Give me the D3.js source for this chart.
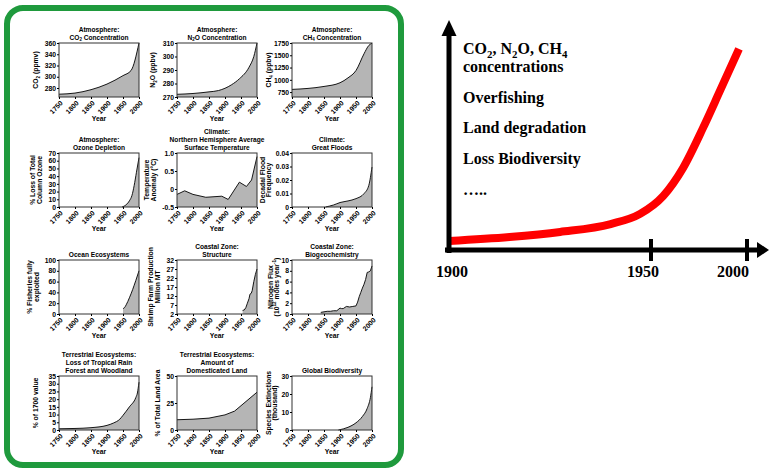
<!DOCTYPE html>
<html>
<head>
<meta charset="utf-8">
<script src="https://cdn.jsdelivr.net/npm/d3@7"></script>
<style>
  body { margin: 0; background: #fff; }
  svg { display: block; }
</style>
</head>
<body>
<svg id="chart" width="769" height="468"></svg>
<script>
// ---- data ----
var yearTicks = [1750, 1800, 1850, 1900, 1950, 2000];

var co2 = [[1750, 269], [1800, 271], [1850, 277], [1900, 287], [1950, 302], [1975, 311], [2000, 360]];
var n2o = [[1750, 272], [1800, 272.6], [1850, 273.8], [1880, 274.8], [1920, 279], [1945, 283.5], [1975, 292], [1990, 300], [2000, 310]];
var ch4 = [[1750, 805], [1800, 825], [1850, 865], [1900, 940], [1925, 1040], [1950, 1190], [1975, 1530], [1990, 1700], [2000, 1745]];
var ozone = [[1947, 0], [1960, 3], [1970, 8], [1978, 15], [1985, 28], [1992, 45], [2000, 64]];
var temperature = [[1750, -0.15], [1774, -0.05], [1800, -0.15], [1840, -0.23], [1890, -0.2], [1910, -0.29], [1945, 0.19], [1967, 0.07], [1983, 0.25], [2000, 0.9]];
var floods = [[1855, 0], [1880, 0.0015], [1900, 0.0033], [1925, 0.0045], [1950, 0.0062], [1975, 0.0099], [1990, 0.016], [2000, 0.0296]];
var fisheries = [[1950, 10], [1955, 12], [1960, 17], [1970, 30], [1980, 45], [1990, 62], [2000, 80]];
var shrimp = [[1955, 4], [1960, 4.2], [1965, 5.5], [1970, 8], [1975, 10.5], [1978, 13], [1982, 13.5], [1985, 15], [1990, 20], [1995, 24], [2000, 27]];
var nitrogen = [[1840, 0.3], [1850, 0.4], [1860, 0.5], [1870, 0.5], [1880, 0.6], [1890, 0.6], [1900, 1.1], [1905, 1.0], [1910, 1.0], [1920, 1.4], [1930, 1.3], [1940, 1.4], [1950, 1.5], [1955, 2.2], [1960, 3.2], [1965, 4.0], [1970, 4.8], [1975, 5.5], [1980, 6.4], [1985, 7.7], [1990, 7.8], [1995, 8.0], [2000, 8.9]];
var rainforest = [[1750, 0.8], [1800, 1], [1850, 1.5], [1900, 3], [1920, 4.5], [1940, 7], [1950, 9.5], [1970, 15], [1990, 21], [1995, 24], [2000, 31]];
var domesticated = [[1750, 9.5], [1800, 10], [1850, 11], [1900, 14], [1930, 17.5], [2000, 35]];
var extinctions = [[1895, 0], [1925, 1.5], [1950, 4], [1970, 7.5], [1985, 12], [1995, 18], [2000, 24]];

// right hand sketch
var pressureYears = [1900, 1915, 1927.5, 1940, 1947.3, 1956.3, 1966.7, 1977.1, 1985.9, 1995.8];
var pressureValues = [4.1, 5.9, 8.2, 11.8, 16.4, 24.5, 37.3, 55.5, 72.3, 91.4];
var pressureTicks = [1950, 2000];
var pressureAxisLabels = [1900, 1950, 2000];
var pressureLabels = ["CO_2, N_2O, CH_4", "concentrations", "Overfishing", "Land degradation", "Loss Biodiversity", "….."];

var fmtInt = d3.format("d");
var panels = [
  { title: ["Atmosphere:", "CO_2 Concentration"], ylab: ["CO_2 (ppmv)"], ydx: [-21], data: co2, domain: [264, 360], ticks: [280, 300, 320, 340, 360], smooth: true },
  { title: ["Atmosphere:", "N_2O Concentration"], ylab: ["N_2O (ppbv)"], ydx: [-22], data: n2o, domain: [270, 310], ticks: [270, 280, 290, 300, 310], smooth: true },
  { title: ["Atmosphere:", "CH_4 Concentration"], ylab: ["CH_4 (ppbv)"], ydx: [-21], data: ch4, domain: [650, 1750], ticks: [750, 1000, 1250, 1500, 1750], smooth: true },
  { title: ["Atmosphere:", "Ozone Depletion"], ylab: ["% Loss of Total", "Column Ozone"], ydx: [-24, -17], data: ozone, domain: [0, 70], ticks: [0, 10, 20, 30, 40, 50, 60, 70], smooth: true },
  { title: ["Climate:", "Northern Hemisphere Average", "Surface Temperature"], ylab: ["Temperature", "Anomaly (°C)"], ydx: [-28, -21], data: temperature, domain: [-0.5, 1], ticks: [-0.5, 0, 0.5, 1], fmt: function(d) { return d === 0 ? "0" : d.toFixed(1); } },
  { title: ["Climate:", "Great Floods"], ylab: ["Decadal Flood", "Frequency"], ydx: [-27, -21], data: floods, domain: [0, 0.04], ticks: [0, 0.01, 0.02, 0.03, 0.04], fmt: function(d) { return d === 0 ? "0" : d.toFixed(2); }, smooth: true },
  { title: ["Ocean Ecosystems"], ylab: ["% Fisheries fully", "exploited"], ydx: [-27, -20], data: fisheries, domain: [0, 100], ticks: [0, 20, 40, 60, 80, 100], smooth: true },
  { title: ["Coastal Zone:", "Structure"], ylab: ["Shrimp Farm Production", "Million MT"], ydx: [-24, -17], data: shrimp, domain: [2, 32], ticks: [2, 7, 12, 17, 22, 27, 32] },
  { title: ["Coastal Zone:", "Biogeochemistry"], ylab: ["Nitrogen Flux", "(10^{12} moles year^{-1})"], ydx: [-19, -13], data: nitrogen, domain: [0, 10], ticks: [0, 2, 4, 6, 8, 10] },
  { title: ["Terrestrial Ecosystems:", "Loss of Tropical Rain", "Forest and Woodland"], ylab: ["% of 1700 value"], ydx: [-21], data: rainforest, domain: [0, 35], ticks: [0, 5, 10, 15, 20, 25, 30, 35], smooth: true },
  { title: ["Terrestrial Ecosystems:", "Amount of", "Domesticated Land"], ylab: ["% of Total Land Area"], ydx: [-17], data: domesticated, domain: [0, 50], ticks: [0, 25, 50] },
  { title: ["Global Biodiversity"], ylab: ["Species Extinctions", "(thousand)"], ydx: [-21, -15], data: extinctions, domain: [0, 30], ticks: [0, 10, 20, 30], smooth: true }
];

var sans = "'Liberation Sans', Arial, Helvetica, sans-serif";
var serif = "'Liberation Serif', 'Times New Roman', serif";

var svg = d3.select("#chart");

// write "CO_2" / "^{12}" style strings as tspans
function rich(textSel, str, fs) {
  var parts = str.split(/(_\{[^}]*\}|_.|\^\{[^}]*\}|\^.)/);
  var cur = 0;
  parts.forEach(function(p) {
    if (!p) return;
    var kind = "", t = p;
    if (p[0] === "_" || p[0] === "^") {
      kind = p[0];
      t = p.slice(1).replace(/[{}]/g, "");
    }
    var off = kind === "_" ? fs * 0.28 : kind === "^" ? -fs * 0.38 : 0;
    var ts = textSel.append("tspan").attr("dy", off - cur).text(t);
    if (kind) ts.attr("font-size", fs * 0.68);
    cur = off;
  });
}

// green frame round the small charts
svg.append("rect")
  .attr("x", 7).attr("y", 8)
  .attr("width", 394).attr("height", 457)
  .attr("rx", 16).attr("ry", 16)
  .attr("fill", "none")
  .attr("stroke", "#1f9a3d")
  .attr("stroke-width", 6);

var colLeft = [59, 177, 292], rowTop = [43, 153, 260, 376];
var plotW = 80, plotH = 54;
var x = d3.scaleLinear().domain([1750, 2000]).range([0, plotW]);

panels.forEach(function(p, i) {
  var g = svg.append("g")
    .attr("transform", "translate(" + colLeft[i % 3] + "," + rowTop[Math.floor(i / 3)] + ")")
    .attr("font-family", sans)
    .attr("font-weight", "bold");

  var y = d3.scaleLinear().domain(p.domain).range([plotH, 0]);
  var curve = p.smooth ? d3.curveMonotoneX : d3.curveLinear;

  g.append("path").datum(p.data)
    .attr("fill", "#b5b5b5")
    .attr("d", d3.area().x(function(d) { return x(d[0]); }).y0(plotH).y1(function(d) { return y(d[1]); }).curve(curve));

  g.append("path").datum(p.data)
    .attr("fill", "none")
    .attr("stroke", "#000")
    .attr("stroke-width", 0.9)
    .attr("d", d3.line().x(function(d) { return x(d[0]); }).y(function(d) { return y(d[1]); }).curve(curve));

  g.append("rect")
    .attr("width", plotW).attr("height", plotH)
    .attr("fill", "none")
    .attr("stroke", "#333")
    .attr("stroke-width", 1);

  // y axis
  var ya = g.append("g")
    .call(d3.axisLeft(y).tickValues(p.ticks).tickFormat(p.fmt || fmtInt).tickSize(2).tickPadding(1).tickSizeOuter(0))
    .attr("font-family", sans).attr("font-size", 6.8);
  ya.select(".domain").remove();

  // x axis, labels tilted
  var xa = g.append("g")
    .attr("transform", "translate(0," + plotH + ")")
    .call(d3.axisBottom(x).tickValues(yearTicks).tickFormat(fmtInt).tickSize(2).tickSizeOuter(0))
    .attr("font-family", sans).attr("font-size", 6.8);
  xa.select(".domain").remove();
  xa.selectAll("text")
    .attr("y", 0).attr("dy", "0.35em")
    .attr("text-anchor", "end")
    .attr("transform", "translate(2,5) rotate(-45)");

  g.append("text")
    .attr("x", plotW / 2).attr("y", plotH + 23.5)
    .attr("text-anchor", "middle")
    .attr("font-size", 6.8)
    .text("Year");

  // title above the box
  var n = p.title.length;
  p.title.forEach(function(t, j) {
    var tx = g.append("text")
      .attr("x", plotW / 2)
      .attr("y", -3.5 - (n - 1 - j) * 7.8)
      .attr("text-anchor", "middle")
      .attr("font-size", 6.6);
    rich(tx, t, 6.6);
  });

  // rotated y label
  p.ylab.forEach(function(t, j) {
    var tl = g.append("text")
      .attr("transform", "translate(" + p.ydx[j] + "," + plotH / 2 + ") rotate(-90)")
      .attr("text-anchor", "middle")
      .attr("dy", "0.35em")
      .attr("font-size", 6.8);
    rich(tl, t, 6.8);
  });
});

// ---- right hand sketch ----
var xR = d3.scaleLinear().domain([1900, 1950, 2000]).range([449, 651, 747]);
var yR = d3.scaleLinear().domain([0, 100]).range([250, 30]);
var labelX = d3.scaleLinear().domain([1900, 1950, 2000]).range([452, 643, 733]);

var r = svg.append("g");

r.append("path")
  .datum(d3.zip(pressureYears, pressureValues))
  .attr("fill", "none")
  .attr("stroke", "#ff0000")
  .attr("stroke-width", 8)
  .attr("d", d3.line().x(function(d) { return xR(d[0]); }).y(function(d) { return yR(d[1]); }).curve(d3.curveMonotoneX));

var ax0 = xR(1900), ay0 = yR(0);

// vertical arrow
r.append("rect")
  .attr("x", ax0 - 2.5).attr("y", 34)
  .attr("width", 5).attr("height", ay0 + 3 - 34)
  .attr("fill", "#000");
r.append("path")
  .attr("d", "M" + (ax0 - 7.5) + ",36L" + ax0 + ",20L" + (ax0 + 7.5) + ",36Z")
  .attr("fill", "#000");

// horizontal arrow
r.append("rect")
  .attr("x", ax0 - 4).attr("y", ay0 - 2.5)
  .attr("width", 758 - (ax0 - 4)).attr("height", 5)
  .attr("fill", "#000");
r.append("path")
  .attr("d", "M757," + (ay0 - 8) + "L769," + ay0 + "L757," + (ay0 + 8) + "Z")
  .attr("fill", "#000");

r.selectAll(".rtick")
  .data(pressureTicks)
  .enter().append("rect")
  .attr("class", "rtick")
  .attr("x", function(d) { return xR(d) - 2; })
  .attr("y", ay0 - 11)
  .attr("width", 4).attr("height", 22)
  .attr("fill", "#000");

r.selectAll(".rlab")
  .data(pressureAxisLabels)
  .enter().append("text")
  .attr("class", "rlab")
  .attr("x", function(d) { return labelX(d); })
  .attr("y", ay0 + 27)
  .attr("text-anchor", "middle")
  .attr("font-family", serif)
  .attr("font-weight", "bold")
  .attr("font-size", 16)
  .text(function(d) { return d; });

var textBase = [54, 72, 103, 133, 164, 195];
pressureLabels.forEach(function(t, i) {
  var tt = r.append("text")
    .attr("x", 463).attr("y", textBase[i])
    .attr("font-family", serif)
    .attr("font-weight", "bold")
    .attr("font-size", 16);
  rich(tt, t, 16);
});
</script>
</body>
</html>
